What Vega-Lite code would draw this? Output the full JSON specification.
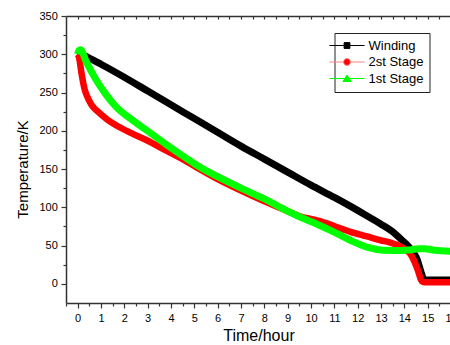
{
  "$schema": "https://vega.github.io/schema/vega-lite/v6.json",
  "width": 396.7,
  "height": 287,
  "autosize": "none",
  "padding": {"left": 66, "top": 16, "right": -12.7, "bottom": 42},
  "background": "white",
  "config": {"view": {"stroke": null}, "font": "Liberation Sans"},
  "data": {"values": [
    {"s": "Winding", "t": 0, "T": 302},
    {"s": "Winding", "t": 0.5, "T": 295},
    {"s": "Winding", "t": 1, "T": 287},
    {"s": "Winding", "t": 2, "T": 270},
    {"s": "Winding", "t": 3, "T": 252},
    {"s": "Winding", "t": 4, "T": 234},
    {"s": "Winding", "t": 5, "T": 216},
    {"s": "Winding", "t": 6, "T": 198},
    {"s": "Winding", "t": 7, "T": 180},
    {"s": "Winding", "t": 8, "T": 163},
    {"s": "Winding", "t": 9, "T": 146},
    {"s": "Winding", "t": 10, "T": 129},
    {"s": "Winding", "t": 11, "T": 113},
    {"s": "Winding", "t": 12, "T": 96},
    {"s": "Winding", "t": 12.5, "T": 87},
    {"s": "Winding", "t": 13, "T": 78},
    {"s": "Winding", "t": 13.5, "T": 68},
    {"s": "Winding", "t": 13.9, "T": 57},
    {"s": "Winding", "t": 14.2, "T": 48},
    {"s": "Winding", "t": 14.4, "T": 40},
    {"s": "Winding", "t": 14.55, "T": 32},
    {"s": "Winding", "t": 14.65, "T": 22},
    {"s": "Winding", "t": 14.75, "T": 12},
    {"s": "Winding", "t": 14.82, "T": 6},
    {"s": "Winding", "t": 14.9, "T": 5},
    {"s": "Winding", "t": 16.5, "T": 5},
    {"s": "2st Stage", "t": 0, "T": 300},
    {"s": "2st Stage", "t": 0.06, "T": 296},
    {"s": "2st Stage", "t": 0.16, "T": 276},
    {"s": "2st Stage", "t": 0.3, "T": 254},
    {"s": "2st Stage", "t": 0.45, "T": 242},
    {"s": "2st Stage", "t": 0.59, "T": 234},
    {"s": "2st Stage", "t": 0.94, "T": 223},
    {"s": "2st Stage", "t": 1.3, "T": 214},
    {"s": "2st Stage", "t": 1.66, "T": 207},
    {"s": "2st Stage", "t": 2.3, "T": 197},
    {"s": "2st Stage", "t": 2.94, "T": 188},
    {"s": "2st Stage", "t": 3.8, "T": 174},
    {"s": "2st Stage", "t": 4.66, "T": 160},
    {"s": "2st Stage", "t": 5, "T": 154},
    {"s": "2st Stage", "t": 6, "T": 137},
    {"s": "2st Stage", "t": 7, "T": 122},
    {"s": "2st Stage", "t": 8, "T": 108},
    {"s": "2st Stage", "t": 9, "T": 95},
    {"s": "2st Stage", "t": 9.55, "T": 88},
    {"s": "2st Stage", "t": 10.26, "T": 83},
    {"s": "2st Stage", "t": 10.97, "T": 76},
    {"s": "2st Stage", "t": 11.69, "T": 68},
    {"s": "2st Stage", "t": 12.4, "T": 62},
    {"s": "2st Stage", "t": 12.98, "T": 57},
    {"s": "2st Stage", "t": 13.4, "T": 54},
    {"s": "2st Stage", "t": 13.83, "T": 49},
    {"s": "2st Stage", "t": 14.1, "T": 44},
    {"s": "2st Stage", "t": 14.26, "T": 39},
    {"s": "2st Stage", "t": 14.4, "T": 31},
    {"s": "2st Stage", "t": 14.5, "T": 24},
    {"s": "2st Stage", "t": 14.62, "T": 14},
    {"s": "2st Stage", "t": 14.7, "T": 6},
    {"s": "2st Stage", "t": 14.8, "T": 2.5},
    {"s": "2st Stage", "t": 15, "T": 2},
    {"s": "2st Stage", "t": 16.5, "T": 2},
    {"s": "1st Stage", "t": 0, "T": 300},
    {"s": "1st Stage", "t": 0.05, "T": 305},
    {"s": "1st Stage", "t": 0.12, "T": 306},
    {"s": "1st Stage", "t": 0.37, "T": 290},
    {"s": "1st Stage", "t": 0.8, "T": 266},
    {"s": "1st Stage", "t": 1.2, "T": 248},
    {"s": "1st Stage", "t": 1.66, "T": 231},
    {"s": "1st Stage", "t": 2.3, "T": 215},
    {"s": "1st Stage", "t": 2.94, "T": 201},
    {"s": "1st Stage", "t": 3.8, "T": 182},
    {"s": "1st Stage", "t": 4.66, "T": 164},
    {"s": "1st Stage", "t": 5, "T": 157},
    {"s": "1st Stage", "t": 6, "T": 140},
    {"s": "1st Stage", "t": 7, "T": 125},
    {"s": "1st Stage", "t": 8, "T": 111},
    {"s": "1st Stage", "t": 9, "T": 95},
    {"s": "1st Stage", "t": 9.55, "T": 87},
    {"s": "1st Stage", "t": 10.26, "T": 78},
    {"s": "1st Stage", "t": 10.97, "T": 68},
    {"s": "1st Stage", "t": 11.69, "T": 57},
    {"s": "1st Stage", "t": 12.4, "T": 48},
    {"s": "1st Stage", "t": 13.1, "T": 44},
    {"s": "1st Stage", "t": 13.83, "T": 43.5},
    {"s": "1st Stage", "t": 14.3, "T": 44.5},
    {"s": "1st Stage", "t": 14.6, "T": 46},
    {"s": "1st Stage", "t": 14.85, "T": 46},
    {"s": "1st Stage", "t": 15.3, "T": 44},
    {"s": "1st Stage", "t": 16, "T": 42.5},
    {"s": "1st Stage", "t": 16.5, "T": 42}
  ]},
  "encoding": {
    "y": {
      "field": "T", "type": "quantitative",
      "scale": {"domain": [-25, 350], "nice": false, "zero": false},
      "axis": {
        "title": "Temperature/K",
        "values": [0,25,50,75,100,125,150,175,200,225,250,275,300,325,350],
        "labelExpr": "datum.value % 50 === 0 ? datum.label : ''",
        "labelOverlap": false,
        "labelFlush": false,
        "labelFont": "Liberation Sans",
        "labelFontSize": 11,
        "labelColor": "#000000",
        "labelPadding": 3.7,
        "tickSize": {"condition": {"test": "datum.value % 50 === 0", "value": 5}, "value": 3},
        "tickColor": "#333333",
        "tickWidth": 1.2,
        "domainColor": "#333333",
        "domainWidth": 1.5,
        "grid": false,
        "titleFont": "Liberation Sans",
        "titleFontSize": 15,
        "titleFontWeight": "normal",
        "titleColor": "#000000",
        "titleX": -39,
        "titleY": 153,
        "titleBaseline": "alphabetic",
        "titleAlign": "center"
      }
    }
  },
  "layer": [
    {
      "encoding": {
        "x": {
          "field": "t", "type": "quantitative",
          "scale": {"domain": [-0.5, 16.5], "nice": false, "zero": false},
          "axis": {
            "orient": "bottom",
            "title": "Time/hour",
            "values": [-0.5,0,0.5,1,1.5,2,2.5,3,3.5,4,4.5,5,5.5,6,6.5,7,7.5,8,8.5,9,9.5,10,10.5,11,11.5,12,12.5,13,13.5,14,14.5,15,15.5,16],
            "labelExpr": "datum.value % 1 === 0 ? format(datum.value, 'd') : ''",
            "labelFlush": false,
            "labelOverlap": false,
            "labelFont": "Liberation Sans",
            "labelFontSize": 11,
            "labelColor": "#000000",
            "labelPadding": 4,
            "tickSize": {"condition": {"test": "datum.value % 1 === 0", "value": 5}, "value": 3},
            "tickColor": "#333333",
            "tickWidth": 1.2,
            "domainColor": "#333333",
            "domainWidth": 1.5,
            "grid": false,
            "titleFont": "Liberation Sans",
            "titleFontSize": 16,
            "titleFontWeight": "normal",
            "titleColor": "#000000",
            "titleX": 192.5,
            "titleY": 37,
            "titleBaseline": "alphabetic",
            "titleAlign": "center"
          }
        }
      },
      "layer": [
        {
          "transform": [{"filter": "datum.s === 'Winding'"}],
          "mark": {"type": "line", "strokeWidth": 7, "interpolate": "monotone", "clip": true, "color": "#000000"}
        },
        {
          "transform": [{"filter": "datum.s === '2st Stage'"}],
          "mark": {"type": "line", "strokeWidth": 6.5, "interpolate": "monotone", "clip": true, "color": "#ff0000"}
        },
        {
          "transform": [{"filter": "datum.s === '1st Stage'"}],
          "mark": {"type": "line", "strokeWidth": 7, "interpolate": "monotone", "clip": true, "color": "#00ff00"}
        }
      ]
    },
    {
      "mark": {"type": "point", "filled": true, "opacity": 0, "strokeWidth": 1},
      "encoding": {
        "x": {
          "field": "t", "type": "quantitative",
          "axis": {
            "orient": "top",
            "title": null,
            "labels": false,
            "values": [0,0.5,1,1.5,2,2.5,3,3.5,4,4.5,5,5.5,6,6.5,7,7.5,8,8.5,9,9.5,10,10.5,11,11.5,12,12.5,13,13.5,14,14.5,15,15.5,16],
            "tickSize": -3,
            "tickColor": "#333333",
            "tickWidth": 1.2,
            "domainColor": "#333333",
            "domainWidth": 1.5,
            "grid": false
          }
        },
        "fill": {
          "field": "s", "type": "nominal",
          "scale": {"domain": ["Winding", "2st Stage", "1st Stage"], "range": ["#000000", "#ff0000", "#00ff00"]},
          "legend": {
            "orient": "none", "legendX": 268.5, "legendY": 17, "title": null,
            "labelFont": "Liberation Sans", "labelFontSize": 13, "labelColor": "#000000",
            "symbolSize": 64, "symbolStrokeWidth": 1, "symbolOpacity": 1, "labelOffset": 15, "rowPadding": 2.5,
            "padding": 6, "strokeColor": "#222222", "fillColor": "#ffffff"
          }
        },
        "stroke": {
          "field": "s", "type": "nominal",
          "scale": {"domain": ["Winding", "2st Stage", "1st Stage"], "range": ["#000000", "#ff8080", "#00ff00"]},
          "legend": {
            "orient": "none", "legendX": 268.5, "legendY": 17, "title": null,
            "labelFont": "Liberation Sans", "labelFontSize": 13, "labelColor": "#000000",
            "symbolSize": 64, "symbolStrokeWidth": 1, "symbolOpacity": 1, "labelOffset": 15, "rowPadding": 2.5,
            "padding": 6, "strokeColor": "#222222", "fillColor": "#ffffff"
          }
        },
        "shape": {
          "field": "s", "type": "nominal",
          "scale": {"domain": ["Winding", "2st Stage", "1st Stage"], "range": [
            "M-4.4,0H-0.72M0.72,0H4.4M-0.72,-0.72H0.72V0.72H-0.72Z",
            "M-4.4,0H-0.85M0.85,0H4.4M-0.85,0A0.85,0.85 0 1,0 0.85,0A0.85,0.85 0 1,0 -0.85,0Z",
            "M-4.4,0H4.4M0,-0.85L1.05,0.75H-1.05Z"
          ]},
          "legend": {
            "orient": "none", "legendX": 268.5, "legendY": 17, "title": null,
            "labelFont": "Liberation Sans", "labelFontSize": 13, "labelColor": "#000000",
            "symbolSize": 64, "symbolStrokeWidth": 1, "symbolOpacity": 1, "labelOffset": 15, "rowPadding": 2.5,
            "padding": 6, "strokeColor": "#222222", "fillColor": "#ffffff"
          }
        }
      }
    }
  ],
  "resolve": {"axis": {"x": "independent"}}
}
